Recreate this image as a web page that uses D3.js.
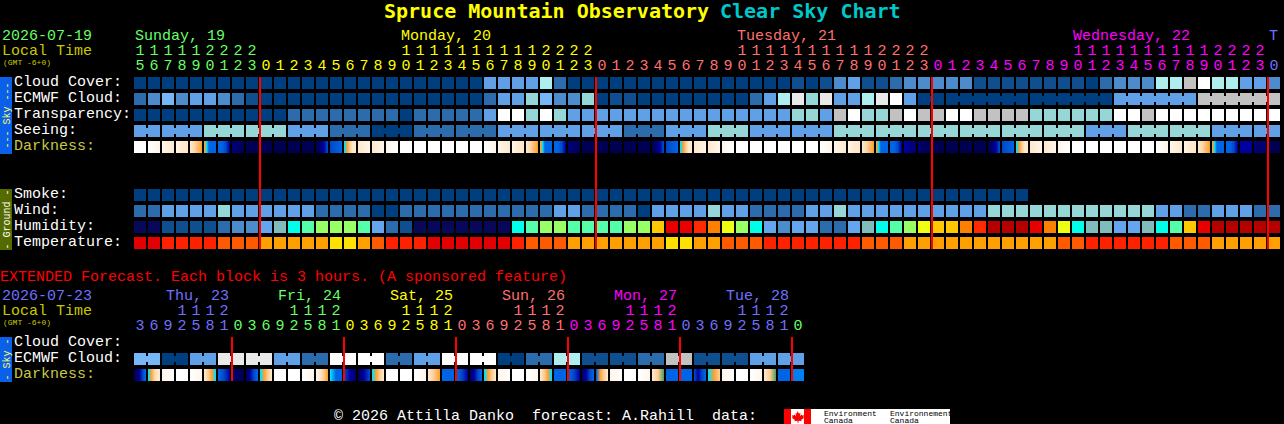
<!DOCTYPE html>
<html><head><meta charset="utf-8">
<style>html,body{margin:0;padding:0;background:#000;overflow:hidden}svg{display:block}
text{font-family:"Liberation Mono",monospace;white-space:pre}</style>
<script src="https://cdn.jsdelivr.net/npm/d3@7/dist/d3.min.js"></script></head><body>
<svg id="c" width="1284" height="424"></svg>
<script>
const skyColors=["#003f7f","#0f4f8f","#2c6cac","#4c8ccc","#5fa0e6","#77b7f7","#96d6d6","#aeeeee","#c2c2c2","#e9e9e9","#ffffff"];
const humidityColors=["#08085a","#0f4f8f","#2c6cac","#4c8ccc","#65a5ee","#80bcbc","#00ffe8","#55ffaa","#99ff66","#eeff11","#ffc800","#ff8000","#ff2a00","#e80000","#b40000"];
const tempColors=["#e40000","#ff2000","#ff5a00","#ffa000","#ffe000"];
const darkColors=["#ffffff","#fff5ea","#ffe8cc","#ffcc90","#ffa030","#00e0ff","#0064e6","#0048c8","#0000a0","#000070","#000052","#60a060","#0080f0"];

const cloud=[0,0,0,0,0,0,0,0,0,0, 0,0,0,0,0,0,0,0,0,0, 0,0,0,0,0,4,4,4,4,7, 2,0,0,0,0,0,0,0,0,0, 0,0,0,0,0,0,0,1,0,1, 3,4,1,1,2,3,3,3,3,3, 1,1,1,1,1,1,1,1,0,2, 3,3,3,7,7,8,10,7,7,4, 4,3];
const ecmwf=[2,3,5,3,4,4,3,2,1,0, 0,0,0,0,0,0,0,0,0,0, 0,0,0,0,0,2,4,4,6,5, 3,3,6,0,1,1,0,0,0,0, 0,0,0,0,2,4,7,9,6,9, 4,4,7,9,10,4,0,0,0,0, 0,0,0,0,0,0,0,0,0,0, 4,4,4,4,4,4,8,8,8,8, 8,8];
const ecmwfGroups=[1,1,1,1,1,1,1,1,1,1,1,1,1,1,1,1,1,1,1,1,1,1,1,1,1,1,1,1,1,1,1,1,1,1,1,1,1,1,1,1,1,1,1,1,1,1,1,1,1,1,1,1,1,1,1,1,2,6,6,6,6];
const transparency=[0,0,0,0,0,0,0,0,0,0, 0,2,2,2,2,2,2,2,2,0, 2,2,2,2,2,4,10,10,6,10, 6,4,4,4,4,4,4,4,4,4, 4,4,4,4,4,4,4,6,6,4, 8,10,6,6,8,10,8,8,10,10, 8,8,8,8,6,6,6,6,6,6, 10,10,8,10,10,10,10,10,10,10, 10,10];
const seeingValues=[4,4,6,6,4,2,0,2,2,4,4,4,2,4,6,4,4,6,6,6,6,6,6,4,6,6,4,4];
const seeingGroups=[2,3,3,3,3,3,3,3,3,3,3,3,3,3,3,3,3,3,3,3,3,3,3,3,3,3,3,2];
const darkness=[[0],[0,1],[1,2],[1,2,2],[2,3,4],[4,5,6,6,6,6],[6,6,7,8],[9,9,10],[10],[10],[10],[10],[10],[10,9,8,7],[7,6],[5,4,3,2,2],[2,1],[2,1],[1,0],[0],[0],[0],[0],[0],[0],[0,1],[1,2],[1,2,2],[2,3,4],[4,5,6,6,6,6],[6,6,7,8],[9,9,10],[10],[10],[10],[10],[10],[10,9,8,7],[7,6],[5,4,3,2,2],[2,1],[2,1],[1,0],[0],[0],[0],[0],[0],[0],[0,1],[1,2],[1,2,2],[2,3,4],[4,5,6,6,6,6],[6,6,7,8],[8,9],[9,10],[10],[10],[10],[10],[10,9,8,7],[7,6],[5,4,3,2,2],[2,1],[2,1],[1,0],[0],[0],[0],[0],[0],[0],[0,1],[1,2],[1,2,2],[2,3,4],[4,5,6,6,6,6],[6,6,7,8],[8],[9],[10]];
const smoke=[0,0,0,0,0,0,0,0,0,0, 0,0,0,0,0,0,0,0,0,0, 0,0,0,0,0,0,0,0,0,0, 0,0,0,0,0,0,0,0,0,0, 0,0,0,0,0,0,0,0,0,0, 0,0,0,0,0,0,0,0,0,0, 0,0,0,0];
const wind=[2,2,4,4,4,4,6,4,4,4, 4,4,4,2,2,2,2,0,0,2, 2,2,2,2,2,2,2,2,2,2, 4,4,2,2,2,2,0,4,4,4, 4,6,4,4,2,2,2,2,4,4, 6,4,4,4,4,4,4,4,4,4, 4,6,6,6,6,6,6,6,6,6, 6,6,6,4,4,2,2,4,4,4, 2,2];
const humidity=[0,0,1,1,1,1,2,3,3,4, 5,6,7,8,8,8,7,4,2,1, 0,0,0,0,0,0,0,6,7,8, 8,7,7,7,7,8,8,10,13,13, 12,11,9,8,6,4,3,4,4,2, 2,4,5,6,7,8,9,10,10,11, 12,14,14,14,13,11,9,6,5,5, 4,4,5,6,7,10,13,14,14,14, 14,14];
const temperature=[0,0,1,1,1,1,2,2,2,3, 3,3,3,3,4,4,3,2,1,1, 1,0,0,0,0,0,0,1,2,2, 2,3,3,3,3,3,3,3,4,4, 3,3,2,2,2,1,1,1,1,1, 1,1,2,2,2,3,3,3,3,3, 3,3,3,3,3,3,2,2,1,1, 1,1,1,1,2,2,2,3,3,3, 3,3];

const hours=[15,16,17,18,19,20,21,22,23].concat(...[0,1,2].map(()=>d3.range(24)),[0]);
const hourDays=[0,0,0,0,0,0,0,0,0].concat(...[1,2,3].map(d=>Array(24).fill(d)),[4]);
const midnights=[9,33,57,81];
const dayNames=["Sunday, 19","Monday, 20","Tuesday, 21","Wednesday, 22","T"];
const dayStarts=[0,19,43,67,81];
const dayColors=["#66ff66","#ffff00","#ff7070","#ff00ff","#7070ff"];

const extHours=[3,6,9,12,15,18,21].concat(...[0,1,2,3,4].map(()=>[0,3,6,9,12,15,18,21]),[0]);
const extDays=[0,0,0,0,0,0,0].concat(...[1,2,3,4,5].map(d=>Array(8).fill(d)),[6]);
const extEcmwf=[5,0,4,9,9,4,2,10,10,2,4,10,10,0,2,7,1,1,2,8,1,1,4,4];
const extDarkness=[[10,9,8,7,6],[5,4,3,2,2],[1,0],[0],[0,1],[2,3,4,5],[6,7,8],[9,10],[10,8,7,6],[5,4,3,2],[0],[0],[0,1],[1,2,3,4],[5,6,6],[7,8,9],[10,8,7],[5,4,3,2],[0],[0],[0,1],[2,3,4],[6,6],[6,7,8],[9,8,7,6],[5,4,3,2],[1,0],[0],[0,1],[2,3,4,5],[6,6],[6,7,8],[9,8,7,6],[6,4,3,2],[1,0],[0],[0,1],[2,3,11],[6,6],[6,6],[7,8,7,6],[5,4,3],[1,0],[0],[0,1],[2,3,11],[6,6],[12]];
const extDayNames=["Thu, 23","Fri, 24","Sat, 25","Sun, 26","Mon, 27","Tue, 28"];
const extDayColors=["#7070ff","#66ff66","#ffff00","#ff7070","#ff00ff","#7070ff","#66ff66"];
const extMidnights=[7,15,23,31,39,47];

const svg=d3.select("#c");
svg.append("rect").attr("width",1284).attr("height",424).attr("fill","#000");
const x=d3.scaleLinear().domain([0,82]).range([134,134+82*14]);
const rowMain=d3.scaleLinear().domain([0,1]).range([77,93]);
const rowGround=d3.scaleLinear().domain([0,1]).range([189,205]);
const rowExt=d3.scaleLinear().domain([0,1]).range([337,353]);
const B=12;
const sky=d3.scaleOrdinal(d3.range(skyColors.length),skyColors);
const hum=d3.scaleOrdinal(d3.range(humidityColors.length),humidityColors);
const tmp=d3.scaleOrdinal(d3.range(tempColors.length),tempColors);
const g=svg.append("g").attr("shape-rendering","crispEdges");

function txt(s,px,py,fill,size=15,opt={}){
  return svg.append("text").attr("x",px).attr("y",py).attr("fill",fill).attr("font-size",size)
   .attr("font-weight",opt.bold?"bold":"normal").attr("text-anchor",opt.anchor||"start").text(s);
}
function row(values,y,color,groups){
  g.selectAll(null).data(values).join("rect").attr("x",(d,i)=>x(i)).attr("y",y).attr("width",B).attr("height",B).attr("fill",d=>color(d));
  if(groups){let p=0;const joins=[];groups.forEach(n=>{for(let k=0;k<n-1;k++)joins.push(p+k);p+=n;});
    g.selectAll(null).data(joins).join("rect").attr("x",i=>x(i)+B).attr("y",y+3).attr("width",2).attr("height",6).attr("fill",i=>color(values[i]));}
}
function darkRow(values,y){
  const px=d3.range(B);
  values.forEach((s,i)=>{
    g.selectAll(null).data(px).join("rect").attr("x",p=>x(i)+p).attr("y",y).attr("width",1).attr("height",B).attr("fill",p=>{
      if(s.length===1)return darkColors[s[0]];
      const t=p/(B-1)*(s.length-1),a=Math.min(Math.floor(t),s.length-2);
      return d3.interpolateRgb(darkColors[s[a]],darkColors[s[a+1]])(t-a);
    });
  });
}
const seeing=seeingValues.flatMap((v,k)=>Array(seeingGroups[k]).fill(v));
row(cloud,rowMain(0),sky);
row(ecmwf,rowMain(1),sky,ecmwfGroups);
row(transparency,rowMain(2),sky);
row(seeing,rowMain(3),sky,seeingGroups);
darkRow(darkness,rowMain(4));
row(smoke,rowGround(0),sky);
row(wind,rowGround(1),sky);
row(humidity,rowGround(2),hum);
row(temperature,rowGround(3),tmp);
row(extEcmwf.flatMap(v=>[v,v]),rowExt(1),sky,extEcmwf.map(()=>2));
darkRow(extDarkness,rowExt(2));

midnights.forEach(m=>g.append("rect").attr("x",x(m)-1).attr("y",77).attr("width",2).attr("height",172).attr("fill","#ff0000"));
extMidnights.forEach(m=>g.append("rect").attr("x",x(m)-1).attr("y",337).attr("width",2).attr("height",44).attr("fill","#ff0000"));

// title
const T=svg.append("text").attr("y",18).attr("font-size",20).attr("font-weight","bold").style("font-family","'DejaVu Sans Mono'");
T.append("tspan").attr("x",384).attr("fill","#ffff00").text("Spruce Mountain Observatory");
T.append("tspan").attr("x",720).attr("fill","#00c8c8").text("Clear Sky Chart");

// headers
txt("2026-07-19",2,39.5,"#66ff66");
txt("Local Time",2,55,"#c8c800");
txt("(GMT -6+0)",3,65,"#c8c800",8);
dayNames.forEach((d,i)=>txt(d,x(dayStarts[i])+1,39.5,dayColors[i]));
hours.forEach((h,i)=>{
  const c=dayColors[hourDays[i]],cx=x(i)+B/2;
  if(h>=10)txt(String(Math.floor(h/10)),cx,55,c,15,{anchor:"middle"});
  txt(String(h%10),cx,70,c,15,{anchor:"middle"});
});
// row labels
const mainLabels=["Cloud Cover:","ECMWF Cloud:","Transparency:","Seeing:","Darkness:"];
mainLabels.forEach((l,i)=>txt(l,14,rowMain(i)+9,i===4?"#c8c844":"#ffffff"));
const groundLabels=["Smoke:","Wind:","Humidity:","Temperature:"];
groundLabels.forEach((l,i)=>txt(l,14,rowGround(i)+9,"#ffffff"));
const extLabels=["Cloud Cover:","ECMWF Cloud:","Darkness:"];
extLabels.forEach((l,i)=>txt(l,14,rowExt(i)+9,i===2?"#c8c844":"#ffffff"));

// side tabs
function tab(y0,y1,fill,color,label){
  g.append("rect").attr("x",0).attr("y",y0).attr("width",12).attr("height",y1-y0).attr("fill",fill);
  const c=(y0+y1)/2;
  svg.append("text").attr("transform",`translate(9.5,${c}) rotate(-90)`).attr("text-anchor","middle").attr("font-size",10).attr("fill",color).text(label);
}
tab(77,154,"#0a60e8","#ffff66","--- Sky ---");
tab(189,250,"#556b00","#ffffff","- Ground -");
tab(337,382,"#0a60e8","#ffff66","- Sky -");

// extended
txt("EXTENDED Forecast. Each block is 3 hours. (A sponsored feature)",0,281,"#ff0000");
txt("2026-07-23",2,300,"#7070ff");
txt("Local Time",2,315,"#c8c800");
txt("(GMT -6+0)",3,325,"#c8c800",8);
extDayNames.forEach((d,i)=>txt(d,166+112*i,300,extDayColors[i]));
extHours.forEach((h,i)=>{
  const c=extDayColors[extDays[i]],cx=x(i)+B/2;
  if(h>=10)txt(String(Math.floor(h/10)),cx,315,c,15,{anchor:"middle"});
  txt(String(h%10),cx,330,c,15,{anchor:"middle"});
});

// footer
txt("\u00a9 2026 Attilla Danko  forecast: A.Rahill  data:",334,419.5,"#ffffff");
g.append("rect").attr("x",784).attr("y",409).attr("width",166).attr("height",15).attr("fill","#fff");
g.append("rect").attr("x",784).attr("y",409).attr("width",7).attr("height",15).attr("fill","#ff0000");
g.append("rect").attr("x",804).attr("y",409).attr("width",7).attr("height",15).attr("fill","#ff0000");
svg.append("path").attr("d","M797.5 411l1.5 2.5 1.5-.6-.6 3.1 1.9-1.6.5 1.2 1.7-.3-.6 1.9.8.5-3 2.3.3 1.2-3-.4v2h-1v-2l-3 .4.3-1.2-3-2.3.8-.5-.6-1.9 1.7.3.5-1.2 1.9 1.6-.6-3.1 1.5.6z").attr("fill","#ff0000");
["Environment","Canada"].forEach((s,i)=>txt(s,824,416+i*7,"#000",8));
["Environnement","Canada"].forEach((s,i)=>txt(s,890,416+i*7,"#000",8));
</script></body></html>
